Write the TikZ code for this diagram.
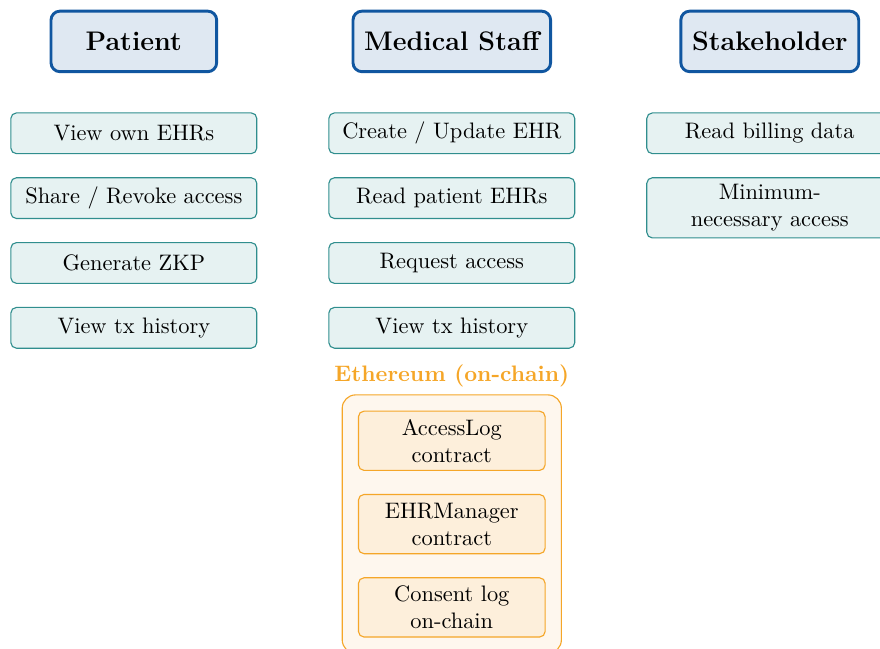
\documentclass[tikz,border=0pt]{standalone}
\usepackage{xcolor}
\usepackage{tikz}
\usetikzlibrary{positioning,fit,backgrounds}

\definecolor{roleline}{RGB}{16,86,160}
\definecolor{rolefill}{RGB}{223,232,242}
\definecolor{taskline}{RGB}{48,142,142}
\definecolor{taskfill}{RGB}{230,242,242}
\definecolor{chainline}{RGB}{245,166,40}
\definecolor{chainfill}{RGB}{254,247,238}
\definecolor{ctrfill}{RGB}{253,239,219}

\begin{document}
\begin{tikzpicture}[node distance=0.36cm,
 role/.style={draw=roleline,fill=rolefill,line width=1.3pt,rounded corners=4pt,
   inner xsep=5pt,minimum width=2.6cm,minimum height=0.95cm,font=\large\bfseries},
 task/.style={draw=taskline,fill=taskfill,line width=0.5pt,rounded corners=2.5pt,
   minimum width=3.86cm,minimum height=0.64cm,inner sep=3pt,align=center},
 ctr/.style={draw=chainline,fill=ctrfill,line width=0.5pt,rounded corners=2.5pt,
   minimum width=2.93cm,minimum height=0.93cm,inner sep=3pt,align=center}]
 \useasboundingbox (0,0) rectangle (13.81,-10.17);

 \node[role] (pat) at (2.1,-0.65) {Patient};
 \node[role] (med) at (7.09,-0.65) {Medical Staff};
 \node[role] (stk) at (12.08,-0.65) {Stakeholder};

 \node[task] (pat1) [below=0.615cm of pat] {View own EHRs};
 \node[task] (pat2) [below=of pat1] {Share / Revoke access};
 \node[task] (pat3) [below=of pat2] {Generate ZKP};
 \node[task] (pat4) [below=of pat3] {View tx history};

 \node[task] (med1) [below=0.615cm of med] {Create / Update EHR};
 \node[task] (med2) [below=of med1] {Read patient EHRs};
 \node[task] (med3) [below=of med2] {Request access};
 \node[task] (med4) [below=of med3] {View tx history};

 \node[task] (stk1) [below=0.615cm of stk] {Read billing data};
 \node[task] (stk2) [below=of stk1] {Minimum-\\necessary access};

 \node[ctr] (log) [below=0.97cm of med4] {AccessLog\\contract};
 \node[ctr] (mgr) [below=of log] {EHRManager\\contract};
 \node[ctr] (cons) [below=of mgr] {Consent log\\on-chain};

 \begin{scope}[on background layer]
  \node[draw=chainline,fill=chainfill,line width=0.5pt,rounded corners=6pt,
    inner sep=7pt,fit=(log)(cons)] (chain) {};
 \end{scope}
 \node[inner sep=0pt,font=\bfseries,text=chainline] (chainlbl) [above=3.2pt of chain]
   {Ethereum (on-chain)};
\end{tikzpicture}
\end{document}
